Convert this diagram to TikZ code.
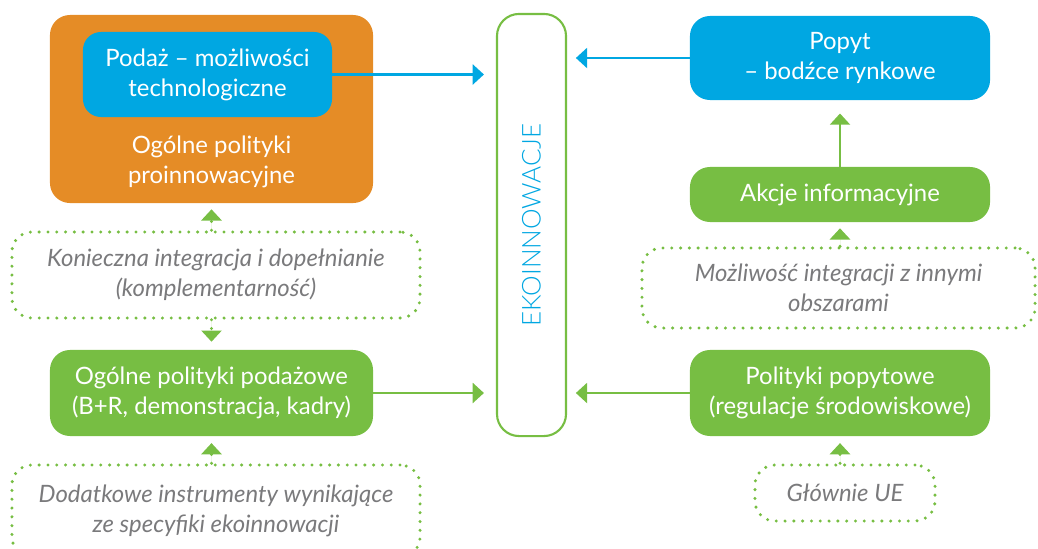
\documentclass[tikz,border=0pt]{standalone}
\usepackage{fontspec}
\setmainfont{Lato}
\newfontfamily\ekofont{Lato Light}
\usetikzlibrary{arrows.meta, positioning, calc}
\definecolor{ekoOrange}{RGB}{229, 140, 38}
\definecolor{ekoBlue}{RGB}{0, 167, 226}
\definecolor{ekoGreen}{RGB}{119, 190, 67}
\definecolor{ekoGrey}{RGB}{122, 122, 124}

\begin{document}
\begin{tikzpicture}[
    x=0.025cm, y=-0.025cm,
    % --- node styles ---
    boxtext/.style={text=white, align=center, inner sep=0pt, font=\fontsize{17}{21.5}\selectfont},
    bluebox/.style={boxtext, fill=ekoBlue, rounded corners=0.45cm, minimum width=7.5cm},
    greenbox/.style={boxtext, fill=ekoGreen, rounded corners=0.5cm, minimum width=7.5cm},
    dotbox/.style={draw=ekoGreen, line width=2.4pt, dash pattern=on 0pt off 0.22cm, line cap=round,
        rounded corners=0.5cm, text=ekoGrey, align=center, inner sep=0pt,
        font=\fontsize{17}{21.5}\selectfont\itshape},
    % --- arrow styles ---
    tip/.style={-{Triangle[width=0.5cm, length=0.28cm]}},
    bluearrow/.style={tip, draw=ekoBlue, fill=ekoBlue, line width=1.5pt},
    greenarrow/.style={tip, draw=ekoGreen, fill=ekoGreen, line width=1.5pt},
    dotarrow/.style={tip, draw=ekoGreen, fill=ekoGreen, line width=2.4pt,
        dash pattern=on 0pt off 0.22cm, line cap=round}
]
\useasboundingbox (0,0) rectangle (1038,548);

% === left column ===
\node[fill=ekoOrange, rounded corners=0.5cm, minimum width=8.075cm, minimum height=4.7cm] (proinno) at (211.5,109) {};
\node[bluebox, minimum width=6.225cm, minimum height=2.125cm] (podaz) at (207.5,74.5) {Podaż – możliwości\\technologiczne};
\node[boxtext] (proinnotxt) at (211.5,162) {Ogólne polityki\\proinnowacyjne};

\node[dotbox, minimum width=10.2cm, minimum height=2.15cm] (konieczna) at (216,275) {Konieczna integracja i dopełnianie\\(komplementarność)};
\node[greenbox, minimum width=8.075cm, minimum height=2.15cm] (podazowe) at (211.5,393) {Ogólne polityki podażowe\\(B+R, demonstracja, kadry)};
\node[dotbox, minimum width=10.2cm, minimum height=2.3cm] (dodatkowe) at (216,511) {Dodatkowe instrumenty wynikające\\ze specyfiki ekoinnowacji};

% === middle ===
\node[draw=ekoGreen, line width=1.5pt, fill=white, rounded corners=0.55cm, minimum width=1.725cm, minimum height=10.55cm] (eko) at (531.5,225) {};
\node[text=ekoBlue, rotate=90, inner sep=0pt, font=\ekofont\fontsize{18.5}{20}\selectfont] (ekotxt) at (eko) {EKOINNOWACJE};

% === right column ===
\node[bluebox, minimum height=2.1cm, rounded corners=0.5cm] (popyt) at (840,58) {Popyt\\– bodźce rynkowe};
\node[greenbox, minimum height=1.375cm] (akcje) at (840,194.5) {Akcje informacyjne};
\node[dotbox, minimum width=9.825cm, minimum height=2cm] (mozliwosc) at (838.5,288) {Możliwość integracji z innymi\\obszarami};
\node[greenbox, minimum height=2.15cm] (popytowe) at (840,393) {Polityki popytowe\\(regulacje środowiskowe)};
\node[dotbox, minimum width=4.5cm, minimum height=1.4cm] (glownie) at (845,493) {Głównie UE};

% === arrows ===
\draw[bluearrow, shorten >=0.3cm] (podaz.east) -- (podaz.east -| eko.west);
\draw[bluearrow, shorten >=0.22cm] (popyt.west) -- (popyt.west -| eko.east);
\draw[greenarrow, shorten >=0.3cm] (podazowe.east) -- (podazowe.east -| eko.west);
\draw[greenarrow, shorten >=0.22cm] (popytowe.west) -- (popytowe.west -| eko.east);
\draw[greenarrow, shorten >=0.33cm] (akcje.north) -- (popyt.south);

\draw[dotarrow, shorten >=0.15cm] (konieczna.north -| proinno.south) -- (proinno.south);
\draw[dotarrow, shorten >=0.2cm] (konieczna.south -| podazowe.north) -- (podazowe.north);
\draw[dotarrow, shorten >=0.17cm] (dodatkowe.north -| podazowe.south) -- (podazowe.south);
\draw[dotarrow, shorten >=0.15cm] (mozliwosc.north -| akcje.south) -- (akcje.south);
\draw[dotarrow, shorten >=0.17cm] (glownie.north -| popytowe.south) -- (popytowe.south);

\end{tikzpicture}
\end{document}
